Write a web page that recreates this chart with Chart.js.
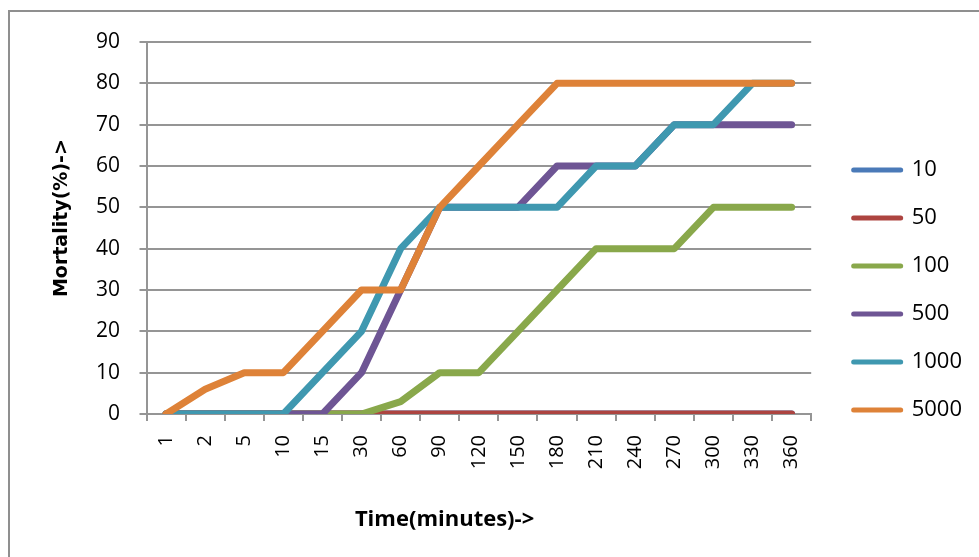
<!DOCTYPE html>
<html>
<head>
<meta charset="utf-8">
<script src="https://cdn.jsdelivr.net/npm/chart.js@4/dist/chart.umd.min.js"></script>
<style>
  html, body { margin: 0; padding: 0; background: #fff; overflow: hidden; width: 979px; height: 557px; }
  #frame { position: absolute; left: 8px; top: 10px; width: 1000px; height: 600px; border: 2px solid #8f8f8f; box-sizing: border-box; }
  #c { position: absolute; left: 0; top: 0; }
</style>
</head>
<body>
<div id="frame"></div>
<canvas id="c" width="979" height="557"></canvas>
<script>
const categories = ['1','2','5','10','15','30','60','90','120','150','180','210','240','270','300','330','360'];
const seriesNames = ['10','50','100','500','1000','5000'];
const s10   = [0,0,0,0,0,0,0,0,0,0,0,0,0,0,0,0,0];
const s50   = [0,0,0,0,0,0,0,0,0,0,0,0,0,0,0,0,0];
const s100  = [0,0,0,0,0,0,3,10,10,20,30,40,40,40,50,50,50];
const s500  = [0,0,0,0,0,10,30,50,50,50,60,60,60,70,70,70,70];
const s1000 = [0,0,0,0,10,20,40,50,50,50,50,60,60,70,70,80,80];
const s5000 = [0,6,10,10,20,30,30,50,60,70,80,80,80,80,80,80,80];
const yTicks = [0,10,20,30,40,50,60,70,80,90];

const colors = ['#4a7ab8','#ad4440','#89a84b','#6e5594','#3f98b0','#de8238'];
const allData = [s10, s50, s100, s500, s1000, s5000];

const datasets = allData.map((d, i) => ({
  label: seriesNames[i],
  data: d,
  borderColor: colors[i],
  backgroundColor: colors[i],
  borderWidth: 7,
  borderCapStyle: 'round',
  borderJoinStyle: 'round',
  pointRadius: 0,
  pointHoverRadius: 0,
  tension: 0,
  fill: false,
  order: allData.length - i
}));

const gridColor = '#959595';

new Chart(document.getElementById('c'), {
  type: 'line',
  data: { labels: categories, datasets },
  options: {
    responsive: false,
    animation: false,
    devicePixelRatio: 1,
    layout: { padding: { top: 42, bottom: 19, left: 0, right: 7 } },
    plugins: {
      tooltip: { enabled: false },
      legend: {
        position: 'right',
        align: 'center',
        labels: {
          usePointStyle: true,
          pointStyle: 'line',
          pointStyleWidth: 47,
          boxWidth: 47,
          padding: 26,
          color: '#000',
          font: { family: 'Open Sans', size: 22 },
          sort: (a, b) => a.datasetIndex - b.datasetIndex,
          generateLabels: (chart) => {
            const items = Chart.defaults.plugins.legend.labels.generateLabels(chart);
            items.forEach(it => { it.lineWidth = 5; it.lineCap = 'round'; });
            return items;
          }
        }
      }
    },
    scales: {
      x: {
        type: 'category',
        offset: true,
        grid: { display: true, drawOnChartArea: false, offset: true, color: gridColor, lineWidth: 2, tickLength: 7 },
        border: { display: true, color: gridColor, width: 2 },
        ticks: {
          autoSkip: false, minRotation: 90, maxRotation: 90, padding: 14,
          color: '#000', font: { family: 'Open Sans', size: 20 }
        },
        title: {
          display: true,
          text: 'Time(minutes)->            ',
          color: '#000',
          font: { family: 'Open Sans', size: 22, weight: 'bold' },
          padding: { top: 0, bottom: 5 }
        },
        afterFit: (s) => { s.height = 124; }
      },
      y: {
        min: 0, max: 90,
        afterBuildTicks: (s) => { s.ticks = yTicks.map(v => ({ value: v })); },
        grid: { color: gridColor, lineWidth: 2, tickLength: 7 },
        border: { display: true, color: gridColor, width: 2 },
        ticks: { padding: 19.5, color: '#000', font: { family: 'Open Sans', size: 21 } },
        title: {
          display: true,
          text: '   Mortality(%)->',
          color: '#000',
          font: { family: 'DejaVu Sans', size: 19, weight: 'bold' },
          padding: { top: 51, bottom: 0 }
        },
        afterFit: (s) => { s.width = 146.5; }
      },
      ySpacer: {
        type: 'linear',
        position: 'right',
        display: true,
        grid: { display: false },
        border: { display: false },
        ticks: { display: false },
        afterFit: (s) => { s.width = 16.5; }
      }
    }
  }
});
</script>
</body>
</html>
